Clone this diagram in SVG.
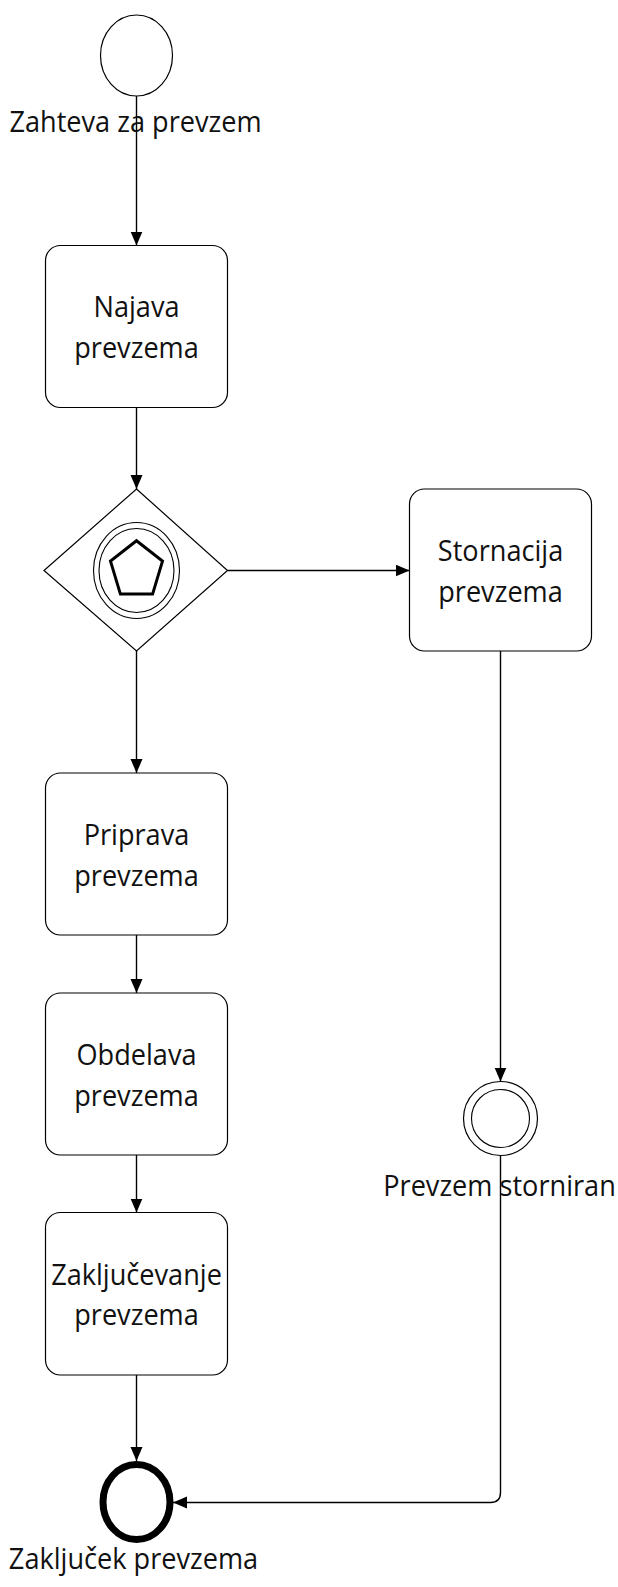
<svg xmlns="http://www.w3.org/2000/svg" width="618" height="1587" viewBox="0 0 618 1587">
<style>
.shape{fill:#fff;stroke:#000;stroke-width:1.2}
.conn{fill:none;stroke:#000;stroke-width:1.4}
.lbl{font-family:"Open Sans","Noto Sans","Liberation Sans",sans-serif;font-size:29.5px;fill:#111;text-anchor:middle}
</style>
<defs>
<marker id="arr" markerUnits="userSpaceOnUse" markerWidth="15" markerHeight="13" refX="14" refY="6" orient="auto">
<path d="M0,0 L14,6 L0,12 z" fill="#000"/>
</marker>
</defs>
<rect width="618" height="1587" fill="#fff"/>
<g id="connectors">
<line class="conn" x1="136.5" y1="96" x2="136.5" y2="245.5" marker-end="url(#arr)"/>
<line class="conn" x1="136.5" y1="407.5" x2="136.5" y2="489" marker-end="url(#arr)"/>
<line class="conn" x1="227.5" y1="570.5" x2="409.5" y2="570.5" marker-end="url(#arr)"/>
<line class="conn" x1="136.5" y1="651" x2="136.5" y2="773" marker-end="url(#arr)"/>
<line class="conn" x1="136.5" y1="935" x2="136.5" y2="993" marker-end="url(#arr)"/>
<line class="conn" x1="136.5" y1="1155" x2="136.5" y2="1212.5" marker-end="url(#arr)"/>
<line class="conn" x1="136.5" y1="1375" x2="136.5" y2="1461" marker-end="url(#arr)"/>
<line class="conn" x1="500.5" y1="651" x2="500.5" y2="1081.5" marker-end="url(#arr)"/>
<path class="conn" d="M500.5,1155.5 V1492.5 Q500.5,1502.5 490.5,1502.5 H173" marker-end="url(#arr)"/>
</g>
<g id="start">
<ellipse class="shape" cx="136.5" cy="55.5" rx="36" ry="40.5"/>
<text class="lbl" transform="translate(135.5,132) scale(0.92,1)">Zahteva za prevzem</text>
</g>
<g id="najava">
<rect class="shape" x="45.5" y="245.5" width="182" height="162" rx="15"/>
<text class="lbl" transform="translate(136.5,317) scale(0.92,1)">Najava</text>
<text class="lbl" transform="translate(136.5,358) scale(0.92,1)">prevzema</text>
</g>
<g id="gateway">
<polygon class="shape" points="136.5,489 227.5,570.5 136.5,651 44,570.5"/>
<ellipse cx="136.5" cy="570.5" rx="43" ry="48" fill="none" stroke="#000" stroke-width="1.1"/>
<ellipse cx="136.5" cy="570.5" rx="37.5" ry="42" fill="none" stroke="#000" stroke-width="1.1"/>
<polygon points="136.5,540.7 162.5,561.1 152.6,594.1 120.4,594.1 110.5,561.1" fill="none" stroke="#000" stroke-width="3" stroke-linejoin="miter"/>
</g>
<g id="stornacija">
<rect class="shape" x="409.5" y="489" width="182" height="162" rx="15"/>
<text class="lbl" transform="translate(500.5,560.7) scale(0.92,1)">Stornacija</text>
<text class="lbl" transform="translate(500.5,601.7) scale(0.92,1)">prevzema</text>
</g>
<g id="priprava">
<rect class="shape" x="45.5" y="773" width="182" height="162" rx="15"/>
<text class="lbl" transform="translate(136.5,844.5) scale(0.92,1)">Priprava</text>
<text class="lbl" transform="translate(136.5,885.5) scale(0.92,1)">prevzema</text>
</g>
<g id="obdelava">
<rect class="shape" x="45.5" y="993" width="182" height="162" rx="15"/>
<text class="lbl" transform="translate(136.5,1064.5) scale(0.92,1)">Obdelava</text>
<text class="lbl" transform="translate(136.5,1105.5) scale(0.92,1)">prevzema</text>
</g>
<g id="zakljucevanje">
<rect class="shape" x="45.5" y="1212.5" width="182" height="162.5" rx="15"/>
<text class="lbl" transform="translate(136.5,1284.5) scale(0.92,1)">Zaključevanje</text>
<text class="lbl" transform="translate(136.5,1325) scale(0.92,1)">prevzema</text>
</g>
<g id="storniran">
<circle class="shape" cx="500.5" cy="1118.5" r="37"/>
<circle cx="500.5" cy="1118.5" r="29" fill="none" stroke="#000" stroke-width="1.1"/>
<text class="lbl" transform="translate(499.5,1196) scale(0.92,1)">Prevzem storniran</text>
</g>
<g id="end">
<ellipse cx="136.5" cy="1502" rx="33.5" ry="37.5" fill="#fff" stroke="#000" stroke-width="7"/>
<text class="lbl" transform="translate(133.5,1569) scale(0.92,1)">Zaključek prevzema</text>
</g>
</svg>
